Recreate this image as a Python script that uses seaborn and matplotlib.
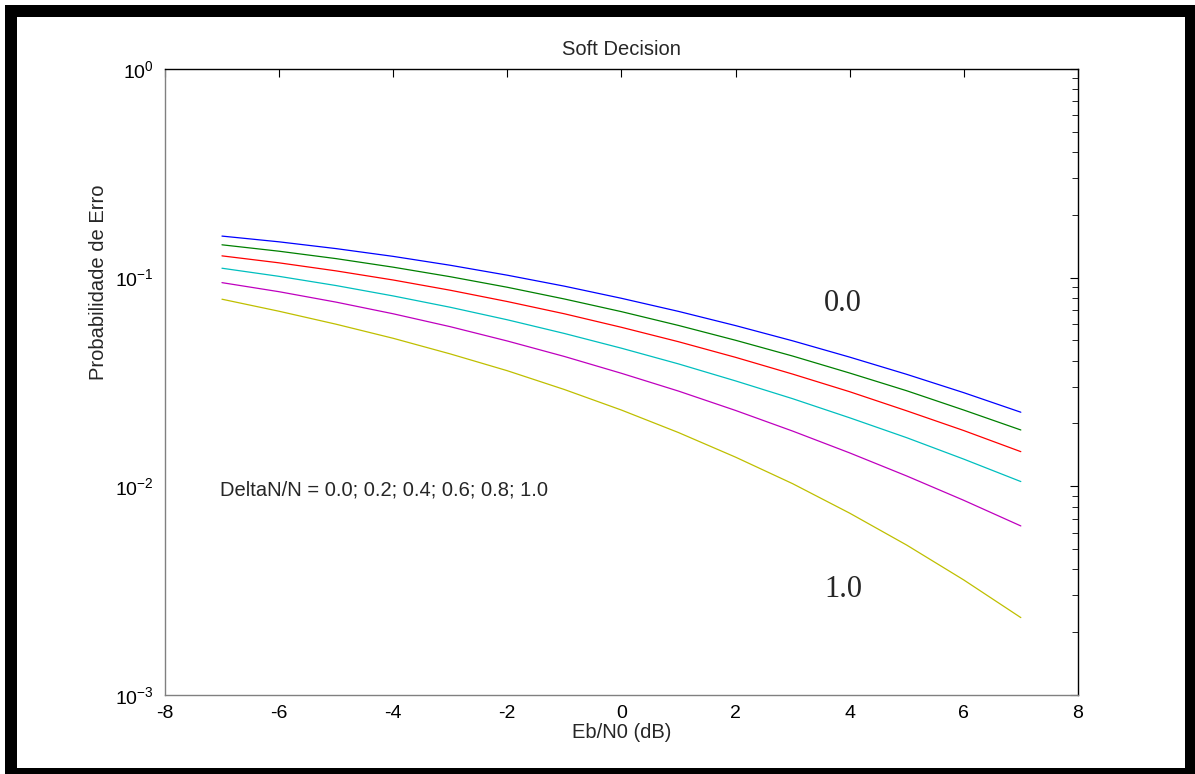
import numpy as np
import pandas as pd
import matplotlib
matplotlib.use("Agg")
import matplotlib.pyplot as plt
import seaborn as sns
from matplotlib.patches import Rectangle
from matplotlib.ticker import LogLocator, NullFormatter

# Eb/N0 (dB) positions
ebn0 = [-7, -6, -5, -4, -3, -2, -1, 0, 1, 2, 3, 4, 5, 6, 7]

# error probability per DeltaN/N value
p_00 = [0.1581, 0.1484, 0.1377, 0.1264, 0.1146, 0.1027, 0.0910, 0.0796,
        0.0689, 0.0589, 0.0498, 0.0416, 0.0344, 0.0281, 0.02265]
p_02 = [0.1436, 0.1338, 0.1233, 0.1122, 0.1010, 0.0899, 0.0790, 0.0687,
        0.0590, 0.0501, 0.0421, 0.0349, 0.0287, 0.0232, 0.01862]
p_04 = [0.1271, 0.1177, 0.1077, 0.0974, 0.0870, 0.0768, 0.0671, 0.0578,
        0.0493, 0.0415, 0.0345, 0.0284, 0.0230, 0.0185, 0.01466]
p_06 = [0.1109, 0.1014, 0.0916, 0.0817, 0.0721, 0.0628, 0.0540, 0.0459,
        0.0386, 0.0320, 0.0263, 0.0213, 0.0171, 0.0135, 0.01054]
p_08 = [0.0946, 0.0856, 0.0763, 0.0671, 0.0582, 0.0497, 0.0419, 0.0348,
        0.0286, 0.0231, 0.0184, 0.01446, 0.01121, 0.00857, 0.00646]
p_10 = [0.0788, 0.0690, 0.0598, 0.0512, 0.0431, 0.0358, 0.0291, 0.0232,
        0.0181, 0.0138, 0.0103, 0.00744, 0.00523, 0.00356, 0.00235]

deltas = ["0.0", "0.2", "0.4", "0.6", "0.8", "1.0"]
series = [p_00, p_02, p_04, p_06, p_08, p_10]

# old MATLAB colour order
colors = ["#0000ff", "#008000", "#ff0000", "#00bfbf", "#bf00bf", "#bfbf00"]

df = pd.DataFrame({
    "ebn0": np.tile(ebn0, len(deltas)),
    "pe": np.concatenate(series),
    "delta": np.repeat(deltas, len(ebn0)),
})

sns.set_style("white")
plt.rcParams["font.family"] = ["Liberation Sans", "DejaVu Sans"]
plt.rcParams["axes.unicode_minus"] = False

fig = plt.figure(figsize=(11.95, 7.74), dpi=100)
ax = fig.add_axes([0.138, 0.102, 0.764, 0.809])

sns.lineplot(data=df, x="ebn0", y="pe", hue="delta", palette=colors,
             linewidth=0.9, legend=False, ax=ax, sort=False)

ax.set_yscale("log")
ax.set_xlim(-8, 8)
ax.set_ylim(1e-3, 1)
ax.set_xticks(range(-8, 9, 2))
ax.yaxis.set_major_locator(LogLocator(base=10, numticks=10))
ax.yaxis.set_minor_locator(LogLocator(base=10, subs=np.arange(2, 10), numticks=20))
ax.yaxis.set_minor_formatter(NullFormatter())

ax.tick_params(which="both", direction="in", top=True, right=True,
               labelsize=14, colors="black")
ax.tick_params(which="major", length=6)
ax.tick_params(which="minor", length=4)
ax.tick_params(axis="x", pad=7)
ax.tick_params(axis="y", pad=8)

for side in ["left", "bottom"]:
    ax.spines[side].set_color("#808080")
for side in ["top", "right"]:
    ax.spines[side].set_color("black")
for s in ax.spines.values():
    s.set_linewidth(1.0)

ax.set_title("Soft Decision", fontsize=14.5, pad=10)
ax.set_xlabel("Eb/N0 (dB)", fontsize=14.5, labelpad=1)
ax.set_ylabel("Probabilidade de Erro", fontsize=14.5)
ax.yaxis.set_label_coords(-0.062, 0.66)

ax.text(0.06, 0.327, "DeltaN/N = 0.0; 0.2; 0.4; 0.6; 0.8; 1.0",
        transform=ax.transAxes, fontsize=14.5, va="center", ha="left")
ax.text(0.742, 0.626, "0.0", transform=ax.transAxes, fontsize=22,
        family="Liberation Serif", ha="center", va="center")
ax.text(0.743, 0.168, "1.0", transform=ax.transAxes, fontsize=22,
        family="Liberation Serif", ha="center", va="center")

# black picture frame
W, H = 1195, 774
def px_rect(x0, y0, x1, y1):
    fig.add_artist(Rectangle((x0 / W, 1 - y1 / H), (x1 - x0) / W, (y1 - y0) / H,
                             transform=fig.transFigure, facecolor="black",
                             edgecolor="none"))

px_rect(5, 5, W, 17)
px_rect(5, 5, 17, H)
px_rect(1185, 5, W, H)
px_rect(5, 768, W, H)

fig.savefig("out.png", dpi=100)
